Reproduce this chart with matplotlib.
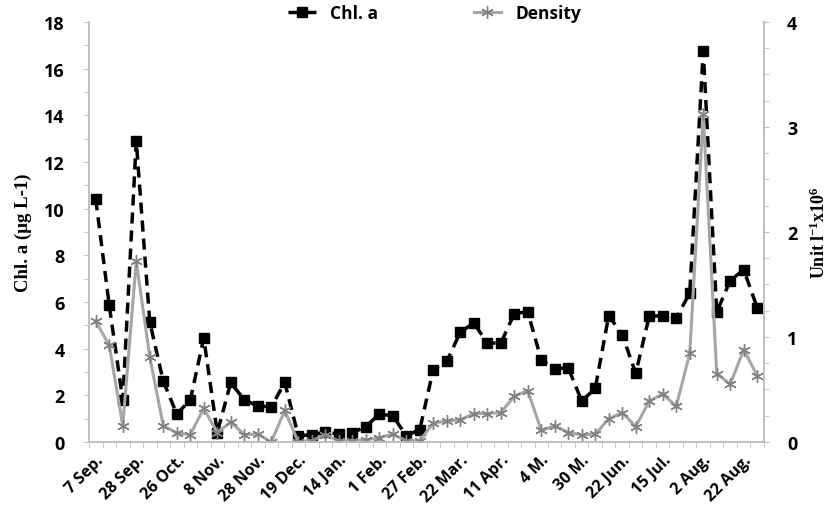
import numpy as np
import matplotlib.pyplot as plt
from matplotlib.ticker import MultipleLocator, FixedLocator

plt.rcParams['mathtext.fontset'] = 'custom'
plt.rcParams['mathtext.rm'] = 'Liberation Serif:bold'
plt.rcParams['mathtext.it'] = 'Liberation Serif:bold'
plt.rcParams['mathtext.bf'] = 'Liberation Serif:bold'

# x-axis labels (every third sample is labelled)
tick_labels = ['7 Sep.', '28 Sep.', '26 Oct.', '8 Nov.', '28 Nov.', '19 Dec.',
               '14 Jan.', '1 Feb.', '27 Feb.', '22 Mar.', '11 Apr.', '4 M.',
               '30 M.', '22 Jun.', '15 Jul.', '2 Aug.', '22 Aug.']

# Chl. a (ug/L), left axis
chl = [10.4, 5.85, 1.8, 12.9, 5.15, 2.6, 1.2, 1.8, 4.45, 0.4,
       2.55, 1.8, 1.55, 1.5, 2.55, 0.27, 0.31, 0.42, 0.34, 0.39,
       0.66, 1.19, 1.13, 0.27, 0.53, 3.1, 3.45, 4.7, 5.1, 4.25,
       4.23, 5.5, 5.58, 3.52, 3.13, 3.18, 1.75, 2.3, 5.42, 4.59,
       2.95, 5.39, 5.41, 5.32, 6.38, 16.75, 5.57, 6.92, 7.38, 5.75]

# Density (unit l-1 x10^6), right axis
density = [1.15, 0.92, 0.155, 1.72, 0.81, 0.155, 0.086, 0.07, 0.32, 0.09,
           0.19, 0.07, 0.076, 0.0, 0.30, 0.0, 0.01, 0.07, 0.01, 0.01,
           0.02, 0.04, 0.076, 0.01, 0.01, 0.18, 0.20, 0.21, 0.27, 0.27,
           0.28, 0.435, 0.49, 0.11, 0.155, 0.09, 0.067, 0.076, 0.22, 0.28,
           0.146, 0.39, 0.457, 0.34, 0.845, 3.12, 0.65, 0.55, 0.88, 0.63]

x = np.arange(len(chl))
axis_grey = '#bfbfbf'
tick_font = {'family': 'Open Sans', 'weight': 'bold', 'size': 13}

fig = plt.figure(figsize=(8.28, 5.1), dpi=100)
ax = fig.add_axes([0.1075, 0.1314, 0.8152, 0.8236])
ax2 = ax.twinx()

ax.plot(x, chl, color='black', lw=2.5, linestyle=(0, (3.2, 2)),
        marker='s', markersize=6.5, label='Chl. a')
ax2.plot(x, density, color='#a6a6a6', lw=2.2, marker=(6, 2, 0),
         markersize=9, markeredgecolor='#808080', markeredgewidth=1,
         label='Density')

ax.set_xlim(-0.5, len(chl) - 0.5)
ax.set_ylim(0, 18)
ax2.set_ylim(0, 4)

ax.set_xticks(x[::3])
ax.set_xticklabels(tick_labels, rotation=45, ha='right', rotation_mode='anchor',
                   fontsize=11.5, fontweight='bold', family='Open Sans')
ax.xaxis.set_minor_locator(FixedLocator(np.arange(-0.5, len(chl), 1)))
ax.tick_params(axis='x', which='major', length=0, pad=7)
ax.tick_params(axis='x', which='minor', length=4, color=axis_grey)

ax.yaxis.set_major_locator(MultipleLocator(2))
ax.yaxis.set_minor_locator(MultipleLocator(1))
ax.tick_params(axis='y', which='both', length=3.5, color=axis_grey, pad=14)
for lab in ax.get_yticklabels():
    lab.set_fontproperties(tick_font)

ax2.yaxis.set_major_locator(MultipleLocator(1))
ax2.yaxis.set_minor_locator(MultipleLocator(0.25))
ax2.tick_params(axis='y', which='both', length=3.5, color=axis_grey, pad=13)
for lab in ax2.get_yticklabels():
    lab.set_fontproperties(tick_font)

for a in (ax, ax2):
    a.spines['top'].set_visible(False)
    for s in ('left', 'right', 'bottom'):
        a.spines[s].set_color(axis_grey)
        a.spines[s].set_linewidth(1.2)

ax.set_ylabel('Chl. a (µg L-1)', family='Liberation Serif', fontweight='bold',
              fontsize=13.5)
ax.yaxis.set_label_coords(-0.085, 0.5)
ax2.set_ylabel(r'Unit l$^{-1}$x10$^{6}$', family='Liberation Serif',
               fontweight='bold', fontsize=13, rotation=90)
ax2.yaxis.set_label_coords(1.068, 0.5)

h1, l1 = ax.get_legend_handles_labels()
h2, l2 = ax2.get_legend_handles_labels()
fig.legend(h1 + h2, l1 + l2, loc='center', bbox_to_anchor=(0.525, 0.972),
           ncol=2, frameon=False, handlelength=1.6, columnspacing=5.5,
           prop={'family': 'Open Sans', 'weight': 'bold', 'size': 12.5})

fig.savefig('out.png', dpi=100)
